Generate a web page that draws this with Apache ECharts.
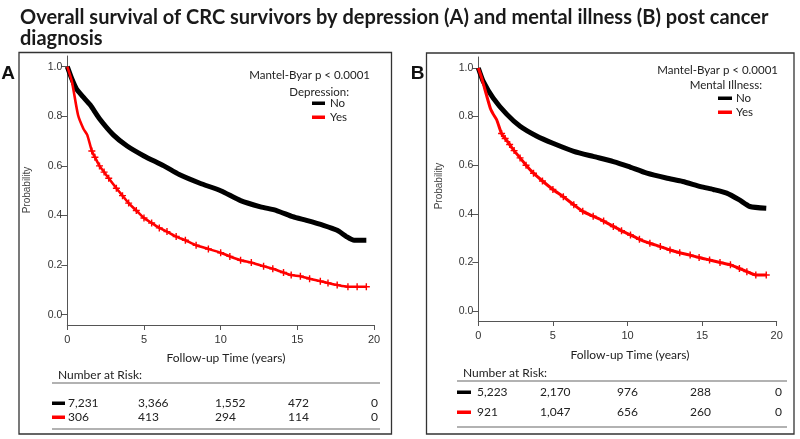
<!DOCTYPE html>
<html>
<head>
<meta charset="utf-8">
<script src="https://cdn.jsdelivr.net/npm/echarts@6/dist/echarts.min.js"></script>
<style>
html,body{margin:0;padding:0;background:#fff;}
#chart{width:800px;height:439px;}
</style>
</head>
<body>
<div id="chart"></div>
<script>
// ---------- DATA ----------
const titleLines = ["Overall survival of CRC survivors by depression (A) and mental illness (B) post cancer", "diagnosis"];
const xTicks = [0, 5, 10, 15, 20];
const yTicks = [0, 0.2, 0.4, 0.6, 0.8, 1.0];
const pText = "Mantel-Byar p < 0.0001";
const legendA = "Depression:";
const legendB = "Mental Illness:";
const groups = ["No", "Yes"];

// Panel A (Depression)
const aNoT = [0, 0.3, 0.6, 1.0, 1.5, 2.1, 3.0, 3.9, 5.0, 6.3, 7.3, 8.65, 10.0, 11.3, 12.6, 13.65, 14.7, 15.6, 16.7, 17.6, 18.2, 18.7, 19.5];
const aNoS = [1.0, 0.95, 0.91, 0.88, 0.845, 0.79, 0.725, 0.68, 0.64, 0.60, 0.565, 0.53, 0.50, 0.46, 0.435, 0.42, 0.395, 0.38, 0.36, 0.34, 0.315, 0.30, 0.30];
const aYesT = [0, 0.3, 0.7, 1.05, 1.3, 1.6, 1.8, 2.1, 2.4, 2.7, 3.2, 3.6, 4.0, 4.5, 5.0, 5.5, 6.0, 6.5, 7.1, 7.7, 8.4, 9.2, 10.0, 10.6, 11.3, 12.0, 12.8, 13.4, 14.1, 14.6, 15.2, 15.8, 16.5, 17.0, 17.6, 18.3, 18.9, 19.5];
const aYesS = [1.0, 0.94, 0.805, 0.75, 0.725, 0.66, 0.635, 0.60, 0.575, 0.55, 0.51, 0.48, 0.45, 0.42, 0.39, 0.37, 0.35, 0.335, 0.315, 0.30, 0.28, 0.265, 0.25, 0.235, 0.22, 0.21, 0.195, 0.185, 0.17, 0.16, 0.155, 0.145, 0.135, 0.128, 0.12, 0.113, 0.113, 0.113];

// Panel B (Mental illness)
const bNoT = [0, 0.33, 1.0, 1.9, 2.8, 3.9, 5.0, 6.4, 7.7, 9.05, 10.05, 11.3, 12.6, 13.7, 14.9, 15.75, 16.65, 17.5, 18.2, 19.3];
const bNoS = [1.0, 0.945, 0.876, 0.81, 0.76, 0.72, 0.69, 0.657, 0.636, 0.615, 0.595, 0.567, 0.547, 0.533, 0.512, 0.50, 0.485, 0.457, 0.43, 0.423];
const bYesT = [0, 0.22, 0.8, 1.0, 1.23, 1.56, 1.8, 2.1, 2.4, 2.8, 3.2, 3.7, 4.3, 5.0, 5.7, 6.4, 7.0, 7.7, 8.4, 9.05, 9.6, 10.2, 10.8, 11.5, 12.2, 12.85, 13.5, 14.2, 14.8, 15.5, 16.2, 16.9, 17.5, 18.0, 18.6, 19.3];
const bYesS = [1.0, 0.96, 0.835, 0.81, 0.787, 0.73, 0.71, 0.685, 0.66, 0.63, 0.60, 0.567, 0.535, 0.50, 0.47, 0.437, 0.41, 0.39, 0.37, 0.348, 0.33, 0.313, 0.295, 0.279, 0.265, 0.251, 0.24, 0.23, 0.22, 0.21, 0.2, 0.19, 0.175, 0.162, 0.148, 0.148];

// Number at risk
const riskHeader = "Number at Risk:";
const riskANo = ["7,231", "3,366", "1,552", "472", "0"];
const riskAYes = ["306", "413", "294", "114", "0"];
const riskBNo = ["5,223", "2,170", "976", "288", "0"];
const riskBYes = ["921", "1,047", "656", "260", "0"];
const xTitle = "Follow-up Time (years)";
const yTitle = "Probability";

// ---------- BUILD ----------
const zip = (t, s) => t.map((x, i) => [x, s[i]]);
const plusPath = 'path://M4,0h2v10h-2zM0,4h10v2h-10z';
const CAL = 'Lato, "Open Sans", sans-serif';
const ARL = '"Liberation Sans", Arial, sans-serif';

function xAxisCfg(gi) {
  return {
    type: 'value', gridIndex: gi, min: 0, max: 20,
    axisLine: {show: true, onZero: false, lineStyle: {color: '#555', width: 1}},
    axisTick: {show: true, length: 5, customValues: xTicks, lineStyle: {color: '#555'}},
    axisLabel: {customValues: xTicks, color: '#333', fontFamily: ARL, fontSize: 11, margin: 9},
    splitLine: {show: false}
  };
}
function yAxisCfg(gi, mn, mx) {
  return {
    type: 'value', gridIndex: gi, min: mn, max: mx,
    axisLine: {show: true, onZero: false, lineStyle: {color: '#555', width: 1}},
    axisTick: {show: true, length: 6, customValues: yTicks, lineStyle: {color: '#555'}},
    axisLabel: {customValues: yTicks, color: '#333', fontFamily: ARL, fontSize: 10.5, margin: 5,
      formatter: v => v.toFixed(1)},
    splitLine: {show: false}
  };
}
function lineSeries(gi, data, color, width, marks) {
  return {
    type: 'line', xAxisIndex: gi, yAxisIndex: gi, data: data,
    smooth: 0.2,
    lineStyle: {color: color, width: width}, itemStyle: {color: color},
    symbol: marks ? plusPath : 'none',
    symbolSize: marks ? (v => v[0] > 1.4 ? 7 : 0) : 0,
    showSymbol: !!marks, silent: true, animation: false
  };
}

const g = [];
function txt(x, y, text, opts) {
  g.push({type: 'text', x: x, y: y, silent: true, rotation: opts.rotation || 0,
    style: Object.assign({text: text, fill: '#222', font: opts.font, textAlign: opts.align || 'left', textVerticalAlign: 'middle'}, opts.style || {})});
}
function rect(x, y, w, h, color) {
  g.push({type: 'rect', silent: true, shape: {x: x, y: y, width: w, height: h}, style: {fill: color}});
}
function hline(x1, x2, y, color, w) {
  g.push({type: 'line', silent: true, shape: {x1: x1, y1: y, x2: x2, y2: y}, style: {stroke: color, lineWidth: w}});
}
function box(x, y, w, h) {
  g.push({type: 'rect', silent: true, shape: {x: x, y: y, width: w, height: h}, style: {fill: 'none', stroke: '#333', lineWidth: 1.3}});
}

// title
txt(20, 18, titleLines[0], {font: 'bold 20px ' + CAL, style: {fill: '#1a1a1a'}});
txt(20, 39, titleLines[1], {font: 'bold 20px ' + CAL, style: {fill: '#1a1a1a'}});

// panel boxes
box(19, 52.5, 372.5, 381.5);
box(426.5, 53, 367.5, 381);

// panel letters
txt(8, 74, 'A', {font: 'bold 19px ' + ARL, align: 'center', style: {fill: '#111'}});
txt(417.5, 74, 'B', {font: 'bold 19px ' + ARL, align: 'center', style: {fill: '#111'}});

// y titles
txt(27, 190, yTitle, {font: '10px ' + ARL, align: 'center', rotation: Math.PI / 2, style: {fill: '#444'}});
txt(439, 186, yTitle, {font: '10px ' + ARL, align: 'center', rotation: Math.PI / 2, style: {fill: '#444'}});

// x titles
txt(226, 358, xTitle, {font: '12px ' + CAL, align: 'center'});
txt(630, 355, xTitle, {font: '12px ' + CAL, align: 'center'});

// legends A
txt(370, 75, pText, {font: '11.5px ' + CAL, align: 'right'});
txt(349, 92, legendA, {font: '11.5px ' + CAL, align: 'right'});
rect(312, 101.5, 13, 3.5, '#000');
txt(330, 103, groups[0], {font: '11.5px ' + CAL});
rect(312, 115.5, 13, 3.5, '#ff0000');
txt(330, 117, groups[1], {font: '11.5px ' + CAL});

// legends B
txt(778, 70, pText, {font: '11.5px ' + CAL, align: 'right'});
txt(762, 85, legendB, {font: '11.5px ' + CAL, align: 'right'});
rect(718, 96.5, 14, 3.5, '#000');
txt(736, 98, groups[0], {font: '11.5px ' + CAL});
rect(718, 110.5, 14, 3.5, '#ff0000');
txt(736, 112, groups[1], {font: '11.5px ' + CAL});

// risk tables
function riskTable(xL, xR, yHead, yLine, yR1, yR2, yBot, cols, rowNo, rowYes, mk) {
  txt(xL + 6, yHead, riskHeader, {font: '12px ' + CAL});
  hline(xL, xR, yLine, '#666', 1.2);
  rect(mk[0], yR1 - 1.5, mk[1] - mk[0], 3.5, '#000');
  rect(mk[0], yR2 - 1.5, mk[1] - mk[0], 3.5, '#ff0000');
  rowNo.forEach((v, i) => txt(cols[i], yR1, v, {font: '12px ' + CAL}));
  rowYes.forEach((v, i) => txt(cols[i], yR2, v, {font: '12px ' + CAL}));
  hline(xL, xR, yBot, '#666', 1.2);
}
riskTable(52, 380, 375, 383, 403, 417, 429, [68, 138, 215, 288, 371], riskANo, riskAYes, [52, 65]);
riskTable(457, 787, 373, 381, 392, 412, 427, [477, 540, 617, 690, 775], riskBNo, riskBYes, [457, 471]);

const option = {
  backgroundColor: '#fff',
  animation: false,
  grid: [
    {left: 67.3, right: 800 - 374, top: 56, bottom: 439 - 325, containLabel: false},
    {left: 478.3, right: 800 - 776.7, top: 57, bottom: 439 - 321, containLabel: false}
  ],
  xAxis: [xAxisCfg(0), xAxisCfg(1)],
  yAxis: [yAxisCfg(0, -0.0415, 1.043), yAxisCfg(1, -0.041, 1.045)],
  series: [
    lineSeries(0, zip(aNoT, aNoS), '#000', 5, false),
    lineSeries(0, zip(aYesT, aYesS), '#ff0000', 2.6, true),
    lineSeries(1, zip(bNoT, bNoS), '#000', 5, false),
    lineSeries(1, zip(bYesT, bYesS), '#ff0000', 3, true)
  ],
  graphic: g
};
const chart = echarts.init(document.getElementById('chart'), null, {renderer: 'canvas'});
chart.setOption(option);
</script>
</body>
</html>
